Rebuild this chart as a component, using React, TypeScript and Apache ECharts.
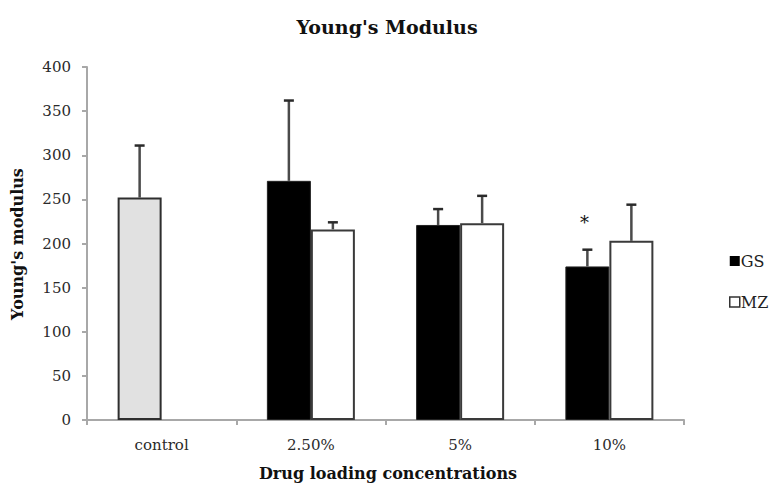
import React, { useEffect, useRef } from "react";
import * as echarts from "echarts";

// Drug loading groups and Young's modulus means / upper error limits
const categories = ["control", "2.50%", "5%", "10%"];
const gsValues = [252, 271, 221, 174];
const gsErrorTop = [311, 362, 239, 193];
const mzValues: (number | null)[] = [null, 216, 223, 203];
const mzErrorTop: (number | null)[] = [null, 224, 254, 244];
const gsMarks = ["", "", "", "*"];
const yTicks = [0, 50, 100, 150, 200, 250, 300, 350, 400];

const FONT = "'DejaVu Serif', 'Liberation Serif', serif";
const BAR_W = 44;

export default function App() {
  const ref = useRef<HTMLDivElement>(null);

  useEffect(() => {
    if (!ref.current) return;
    const chart = echarts.init(ref.current, undefined, { renderer: "svg" });

    // error bar records: [category index, bar value, error top, side(-1 GS, +1 MZ)]
    const errData: any[] = [];
    const errMarks: string[] = [];
    categories.forEach((_, i) => {
      errData.push([i, gsValues[i], gsErrorTop[i], -1]);
      errMarks.push(gsMarks[i]);
      if (mzValues[i] != null) {
        errData.push([i, mzValues[i], mzErrorTop[i], 1]);
        errMarks.push("");
      }
    });

    const gsData = gsValues.map((v, i) =>
      i === 0
        ? { value: v, itemStyle: { color: "#e1e1e1", borderColor: "#2e2e2e", borderWidth: 2 } }
        : v
    );

    chart.setOption({
      animation: false,
      backgroundColor: "#ffffff",
      grid: { left: 87, top: 67, width: 597, height: 353 },
      legend: {
        orient: "vertical",
        left: 724,
        top: 248,
        itemWidth: 10,
        itemHeight: 10,
        itemGap: 25,
        textStyle: { fontFamily: FONT, fontSize: 16, color: "#222", padding: [0, 0, 0, -4] },
        data: [
          { name: "GS", icon: "rect", itemStyle: { color: "#000", borderColor: "#000", borderWidth: 0 } },
          { name: "MZ", icon: "rect", itemStyle: { color: "#fff", borderColor: "#333", borderWidth: 1.5 } },
        ],
      },
      xAxis: {
        type: "category",
        data: categories,
        axisLine: { lineStyle: { color: "#a8a8a8", width: 2 } },
        axisTick: { show: true, length: 5, lineStyle: { color: "#a8a8a8", width: 2 } },
        axisLabel: { fontFamily: FONT, fontSize: 15, color: "#2a2a2a", margin: 17 },
      },
      yAxis: {
        type: "value",
        min: 0,
        max: yTicks[yTicks.length - 1],
        interval: yTicks[1] - yTicks[0],
        splitLine: { show: false },
        axisLine: { show: true, lineStyle: { color: "#a8a8a8", width: 2 } },
        axisTick: { show: true, length: 5, lineStyle: { color: "#a8a8a8", width: 2 } },
        axisLabel: { fontFamily: FONT, fontSize: 15, color: "#2a2a2a", margin: 16 },
      },
      graphic: [
        {
          type: "text",
          x: 387,
          y: 27,
          style: {
            text: "Young's Modulus",
            fontFamily: FONT,
            fontWeight: "bold",
            fontSize: 19,
            fill: "#111",
            align: "center",
            verticalAlign: "middle",
          },
        },
        {
          type: "text",
          x: 17,
          y: 244,
          rotation: Math.PI / 2,
          style: {
            text: "Young's modulus",
            fontFamily: FONT,
            fontWeight: "bold",
            fontSize: 16,
            fill: "#111",
            align: "center",
            verticalAlign: "middle",
          },
        },
        {
          type: "text",
          x: 388,
          y: 473,
          style: {
            text: "Drug loading concentrations",
            fontFamily: FONT,
            fontWeight: "bold",
            fontSize: 16,
            fill: "#111",
            align: "center",
            verticalAlign: "middle",
          },
        },
      ],
      series: [
        {
          name: "GS",
          type: "bar",
          barWidth: BAR_W,
          barGap: "0%",
          data: gsData,
          itemStyle: { color: "#000", borderColor: "#222", borderWidth: 1 },
        },
        {
          name: "MZ",
          type: "bar",
          barWidth: BAR_W,
          barGap: "0%",
          data: mzValues.map((v) => (v == null ? "-" : v)),
          itemStyle: { color: "#fff", borderColor: "#3a3a3a", borderWidth: 2 },
        },
        {
          name: "error",
          type: "custom",
          z: 5,
          data: errData,
          renderItem: (params: any, api: any) => {
            const cat = api.value(0);
            const side = api.value(3);
            const top = api.coord([cat, api.value(1)]);
            const cap = api.coord([cat, api.value(2)]);
            const x = top[0] + (side * BAR_W) / 2;
            const children: any[] = [
              {
                type: "line",
                shape: { x1: x, y1: top[1], x2: x, y2: cap[1] },
                style: { stroke: "#4a4a4a", lineWidth: 2.5 },
              },
              {
                type: "line",
                shape: { x1: x - 5, y1: cap[1], x2: x + 5, y2: cap[1] },
                style: { stroke: "#2a2a2a", lineWidth: 2.5 },
              },
            ];
            const mark = errMarks[params.dataIndex];
            if (mark) {
              children.push({
                type: "text",
                x: x - 3,
                y: cap[1] - 27,
                style: {
                  text: mark,
                  fontFamily: FONT,
                  fontSize: 18,
                  fill: "#111",
                  align: "center",
                  verticalAlign: "middle",
                },
              });
            }
            return { type: "group", children };
          },
        },
      ],
    });

    return () => chart.dispose();
  }, []);

  return (
    <div
      ref={ref}
      style={{ position: "fixed", left: 0, top: 0, width: 774, height: 491, background: "#fff" }}
    />
  );
}
